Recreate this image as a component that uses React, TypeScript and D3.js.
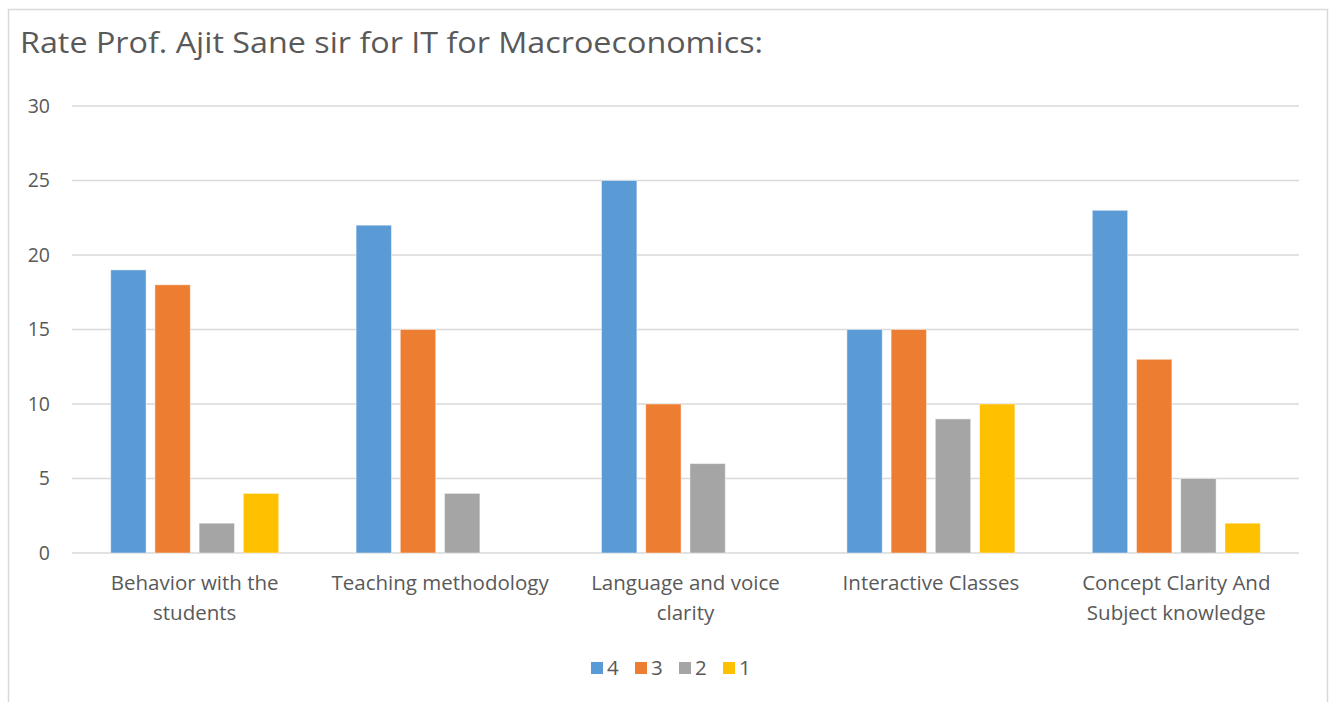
import React from 'react';
import * as d3 from 'd3';

// Chart data
const categories = [
  ['Behavior with the', 'students'],
  ['Teaching methodology'],
  ['Language and voice', 'clarity'],
  ['Interactive Classes'],
  ['Concept Clarity And', 'Subject knowledge'],
];
const seriesNames = ['4', '3', '2', '1'];
const rating4 = [19, 22, 25, 15, 23];
const rating3 = [18, 15, 10, 15, 13];
const rating2 = [2, 4, 6, 9, 5];
const rating1 = [4, 0, 0, 10, 2];
const yTicks = [0, 5, 10, 15, 20, 25, 30];

const seriesValues = [rating4, rating3, rating2, rating1];
const colors = ['#5B9BD5', '#ED7D31', '#A5A5A5', '#FFC000'];

const W = 1336;
const H = 702;
const plot = { left: 72, right: 1299, top: 106, bottom: 553 };
const font = "'Open Sans', 'Noto Sans', sans-serif";

export default function App() {
  const catIds = categories.map((_, i) => String(i));
  const x0 = d3.scaleBand().domain(catIds).range([plot.left, plot.right]).padding(0);
  const groupW = 168;
  const offset = (x0.bandwidth() - groupW) / 2;
  const x1 = d3.scaleBand().domain(seriesNames).range([offset, offset + groupW]).paddingInner(0.2).paddingOuter(0);
  const y = d3.scaleLinear().domain([0, 30]).range([plot.bottom, plot.top]);

  const legendX = d3.scaleBand().domain(seriesNames).range([591, 767]);

  return (
    <svg
      width={W}
      height={H}
      style={{ position: 'absolute', left: 0, top: 0, background: '#fff' }}
    >
      {/* chart frame */}
      <rect x={8.5} y={9.5} width={1319} height={H + 20} fill="#fff" stroke="#D9D9D9" strokeWidth={1.5} />

      <text
        x={20}
        y={53}
        fontFamily={font}
        fontSize={29}
        fill="#595959"
        textLength={743}
        lengthAdjust="spacingAndGlyphs"
      >
        Rate Prof. Ajit Sane sir for IT for Macroeconomics:
      </text>

      {/* gridlines + y labels */}
      {yTicks.map((t) => (
        <g key={t}>
          <line x1={plot.left} x2={plot.right} y1={y(t)} y2={y(t)} stroke="#D9D9D9" strokeWidth={1.5} />
          <text
            x={50}
            y={y(t)}
            dy="0.35em"
            textAnchor="end"
            fontFamily={font}
            fontSize={19.5}
            fill="#595959"
          >
            {t}
          </text>
        </g>
      ))}

      {/* bars */}
      {catIds.map((c, ci) => (
        <g key={c} transform={`translate(${x0(c)},0)`}>
          {seriesNames.map((s, si) => {
            const v = seriesValues[si][ci];
            if (!v) return null;
            return (
              <rect
                key={s}
                x={x1(s)}
                y={y(v)}
                width={x1.bandwidth()}
                height={y(0) - y(v)}
                fill={colors[si]}
                stroke="#ffffff"
                strokeOpacity={0.45}
                strokeWidth={1}
              />
            );
          })}
        </g>
      ))}

      {/* category labels */}
      {categories.map((lines, ci) => {
        const cx = (x0(String(ci)) as number) + x0.bandwidth() / 2;
        return (
          <text
            key={ci}
            x={cx}
            y={590}
            textAnchor="middle"
            fontFamily={font}
            fontSize={20.5}
            fill="#595959"
          >
            {lines.map((l, li) => (
              <tspan key={li} x={cx} dy={li === 0 ? 0 : 30}>
                {l}
              </tspan>
            ))}
          </text>
        );
      })}

      {/* legend */}
      {seriesNames.map((s, si) => (
        <g key={s} transform={`translate(${legendX(s)},0)`}>
          <rect x={0} y={662} width={12} height={12} fill={colors[si]} />
          <text x={16} y={668} dy="0.36em" fontFamily={font} fontSize={20.5} fill="#595959">
            {s}
          </text>
        </g>
      ))}
    </svg>
  );
}
